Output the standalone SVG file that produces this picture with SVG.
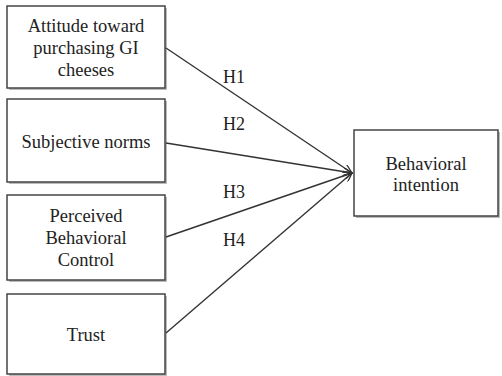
<svg xmlns="http://www.w3.org/2000/svg" width="502" height="376" viewBox="0 0 502 376">
<defs>
<marker id="ah" markerWidth="10" markerHeight="8" refX="9" refY="4" orient="auto" markerUnits="userSpaceOnUse">
<path d="M0,0 L9,4 L0,8" fill="none" stroke="#333" stroke-width="1.3"/>
</marker>
</defs>
<style>
.box{fill:#fff;stroke:#444;stroke-width:1.5}
.sh{fill:#bbb}
.t{font-family:"Liberation Serif","Times New Roman",serif;font-size:18.5px;fill:#222;text-anchor:middle}
.h{font-size:18px}
.c{stroke:#333;stroke-width:1.4;fill:none}
</style>
<rect width="502" height="376" fill="#fff"/>
<g id="n1">
<rect class="sh" x="9" y="8" width="158" height="82"/>
<rect class="box" x="7" y="6" width="158" height="82"/>
<text class="t" x="86" y="32">Attitude toward</text>
<text class="t" x="86" y="54">purchasing GI</text>
<text class="t" x="86" y="76">cheeses</text>
</g>
<g id="n2">
<rect class="sh" x="9" y="101" width="158" height="83"/>
<rect class="box" x="7" y="99" width="158" height="83"/>
<text class="t" x="86" y="148">Subjective norms</text>
</g>
<g id="n3">
<rect class="sh" x="9" y="197" width="158" height="85"/>
<rect class="box" x="7" y="195" width="158" height="85"/>
<text class="t" x="86" y="222">Perceived</text>
<text class="t" x="86" y="244">Behavioral</text>
<text class="t" x="86" y="266">Control</text>
</g>
<g id="n4">
<rect class="sh" x="9" y="296" width="158" height="82"/>
<rect class="box" x="7" y="294" width="158" height="80"/>
<text class="t" x="86" y="341">Trust</text>
</g>
<g id="n5">
<rect class="sh" x="356" y="132" width="144" height="86"/>
<rect class="box" x="354" y="130" width="144" height="86"/>
<text class="t" x="426" y="170">Behavioral</text>
<text class="t" x="426" y="191">intention</text>
</g>
<g id="connectors">
<line class="c" x1="166" y1="48" x2="352" y2="173" marker-end="url(#ah)"/>
<line class="c" x1="166" y1="143" x2="352" y2="173" marker-end="url(#ah)"/>
<line class="c" x1="166" y1="237" x2="352" y2="173" marker-end="url(#ah)"/>
<line class="c" x1="166" y1="333" x2="352" y2="173" marker-end="url(#ah)"/>
<text class="t h" x="234" y="83">H1</text>
<text class="t h" x="234" y="130">H2</text>
<text class="t h" x="234" y="198">H3</text>
<text class="t h" x="234" y="246">H4</text>
</g>
</svg>
